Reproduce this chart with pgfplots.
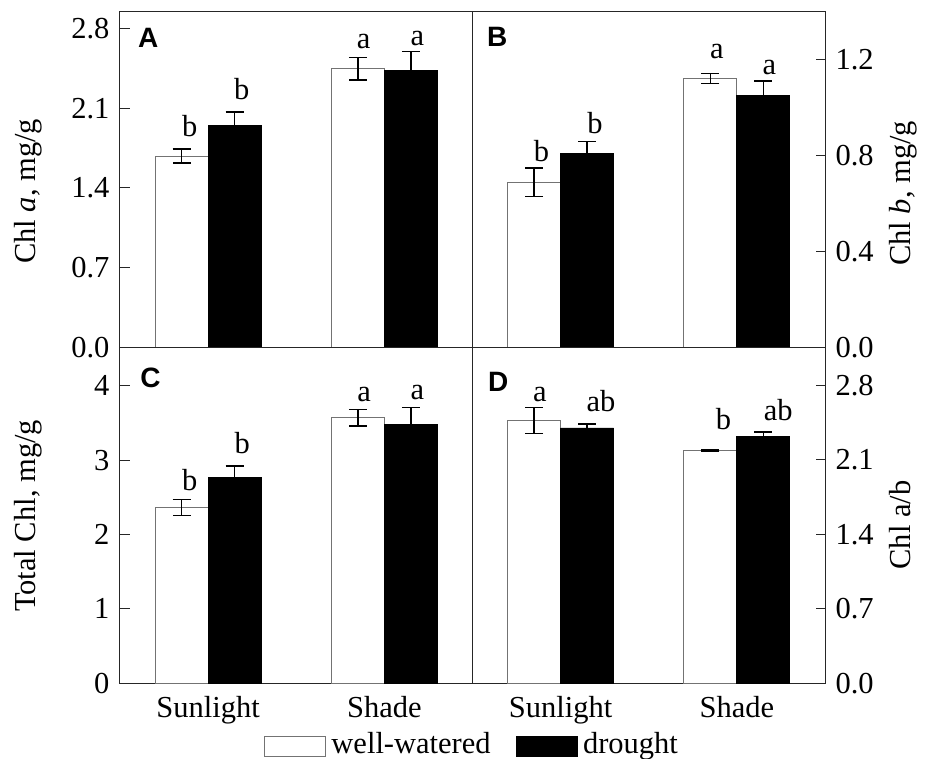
\documentclass[border=0pt]{standalone}
\usepackage{pgfplots}
\pgfplotsset{compat=1.18}
\usepackage{fontspec}
\setmainfont{Liberation Serif}
\newfontfamily\panelfont{Liberation Sans}
\newcommand\fsz{\fontsize{30.5}{36}\selectfont}
\newcommand\psz{\panelfont\bfseries\fontsize{28}{32}\selectfont}

\pgfplotsset{
  panel/.style={
    scale only axis, width=352.5pt,
    xmin=-0.5, xmax=1.5, ymin=0,
    xtick={0,1}, xtick style={draw=none},
    tick align=inside, major tick length=9.5pt,
    axis line style={line width=1pt, black!85},
    every tick/.style={line width=1pt, black!85},
    ybar, bar width=53pt,
    tick label style={font=\fsz},
    label style={font=\fsz},
    /pgf/number format/assume math mode=true,
    clip=false,
  },
  leftp/.style={ytick pos=left, yticklabel pos=left, yticklabel style={xshift=-7pt}},
  rightp/.style={ytick pos=right, yticklabel pos=right, yticklabel style={xshift=7pt}},
  onedec/.style={yticklabel style={/pgf/number format/.cd, fixed, fixed zerofill, precision=1}},
  ww/.style={fill=white, draw=black!55, line width=0.8pt, bar shift=-26.5pt,
    legend image code/.code={\draw[fill=white, draw=black!55, line width=0.8pt] (0pt,-10.4pt) rectangle (61pt,10.3pt); \path[draw=none, fill=none] (0pt,0pt) rectangle (64pt,0.1pt);},
    error bars/.cd, y dir=both, y explicit,
    error bar style={line width=1.4pt, black},
    error mark options={rotate=90, line width=1.4pt, mark size=9pt, black}},
  dr/.style={fill=black, draw=black, line width=0.8pt, bar shift=26.5pt,
    legend image code/.code={\draw[fill=black, draw=black, line width=0.8pt] (0pt,-10.4pt) rectangle (61pt,10.3pt); \path[draw=none, fill=none] (0pt,0pt) rectangle (64pt,0.1pt);},
    error bars/.cd, y dir=both, y explicit,
    error bar style={line width=1.4pt, black},
    error mark options={rotate=90, line width=1.4pt, mark size=9pt, black}},
}

\begin{document}
\begin{tikzpicture}[x=1pt,y=1pt]
\useasboundingbox (0,0) rectangle (931,-759);

% Panel A
\begin{axis}[panel, leftp, onedec, at={(120pt,-12pt)}, anchor=north west,
  height=335.3pt, ymax=2.946, ytick={0,0.7,1.4,2.1,2.8}, xticklabels={},
  ylabel={Chl \textit{a}, mg/g},
  ylabel style={at={(axis description cs:-0.2383,0.465)}, anchor=base}]
\addplot[ww] coordinates {(0,1.681) +- (0,0.06) (1,2.448) +- (0,0.10)};
\addplot[dr] coordinates {(0,1.947) +- (0,0.12) (1,2.431) +- (0,0.167)};
\node[anchor=base, font=\fsz] at (axis cs:-0.104,1.851) {b};
\node[anchor=base, font=\fsz] at (axis cs:0.191,2.173) {b};
\node[anchor=base, font=\fsz] at (axis cs:0.883,2.627) {a};
\node[anchor=base, font=\fsz] at (axis cs:1.188,2.656) {a};
\node[anchor=north west, inner sep=0pt, font=\psz] at (rel axis cs:0.051,0.951) {A};
\end{axis}

% Panel B
\begin{axis}[panel, rightp, onedec, at={(472.5pt,-12pt)}, anchor=north west,
  height=335.3pt, ymax=1.40, ytick={0,0.4,0.8,1.2}, xticklabels={},
  ylabel={Chl \textit{b}, mg/g},
  ylabel style={at={(axis description cs:1.2417,0.459)}, anchor=base}]
\addplot[ww] coordinates {(0,0.689) +- (0,0.06) (1,1.122) +- (0,0.02)};
\addplot[dr] coordinates {(0,0.810) +- (0,0.049) (1,1.051) +- (0,0.061)};
\node[anchor=base, font=\fsz] at (axis cs:-0.108,0.775) {b};
\node[anchor=base, font=\fsz] at (axis cs:0.195,0.894) {b};
\node[anchor=base, font=\fsz] at (axis cs:0.886,1.207) {a};
\node[anchor=base, font=\fsz] at (axis cs:1.185,1.137) {a};
\node[anchor=north west, inner sep=0pt, font=\psz] at (rel axis cs:0.041,0.956) {B};
\end{axis}

% Panel C
\begin{axis}[panel, leftp, at={(120pt,-347.3pt)}, anchor=north west,
  height=336pt, ymax=4.516, ytick={0,1,2,3,4}, xticklabels={Sunlight,Shade},
  ylabel={Total Chl, mg/g},
  ylabel style={at={(axis description cs:-0.2383,0.498)}, anchor=base},
  legend columns=2,
  legend style={at={(axis description cs:1.0,-0.1875)}, anchor=center, draw=none,
    fill=none, inner sep=0pt, font=\fsz,
    nodes={inner sep=3pt, text height=21pt, text depth=7pt},
    /tikz/every even column/.append style={column sep=22pt}}]
\addplot[ww] coordinates {(0,2.366) +- (0,0.107) (1,3.57) +- (0,0.11)};
\addlegendentry{well-watered}
\addplot[dr] coordinates {(0,2.763) +- (0,0.158) (1,3.485) +- (0,0.224)};
\addlegendentry{drought}
\node[anchor=base, font=\fsz] at (axis cs:-0.104,2.598) {b};
\node[anchor=base, font=\fsz] at (axis cs:0.193,3.091) {b};
\node[anchor=base, font=\fsz] at (axis cs:0.885,3.794) {a};
\node[anchor=base, font=\fsz] at (axis cs:1.188,3.808) {a};
\node[anchor=north west, inner sep=0pt, font=\psz] at (rel axis cs:0.057,0.938) {C};
\end{axis}

% Panel D
\begin{axis}[panel, rightp, onedec, at={(472.5pt,-347.3pt)}, anchor=north west,
  height=336pt, ymax=3.155, ytick={0,0.7,1.4,2.1,2.8}, xticklabels={Sunlight,Shade},
  ylabel={Chl a/b},
  ylabel style={at={(axis description cs:1.2417,0.471)}, anchor=base}]
\addplot[ww] coordinates {(0,2.467) +- (0,0.12) (1,2.186) +- (0,0.006)};
\addplot[dr] coordinates {(0,2.398) +- (0,0.038) (1,2.317) +- (0,0.044)};
\node[anchor=base, font=\fsz] at (axis cs:-0.118,2.648) {a};
\node[anchor=base, font=\fsz] at (axis cs:0.229,2.548) {ab};
\node[anchor=base, font=\fsz] at (axis cs:0.924,2.383) {b};
\node[anchor=base, font=\fsz] at (axis cs:1.235,2.470) {ab};
\node[anchor=north west, inner sep=0pt, font=\psz] at (rel axis cs:0.044,0.927) {D};
\end{axis}
\end{tikzpicture}
\end{document}
